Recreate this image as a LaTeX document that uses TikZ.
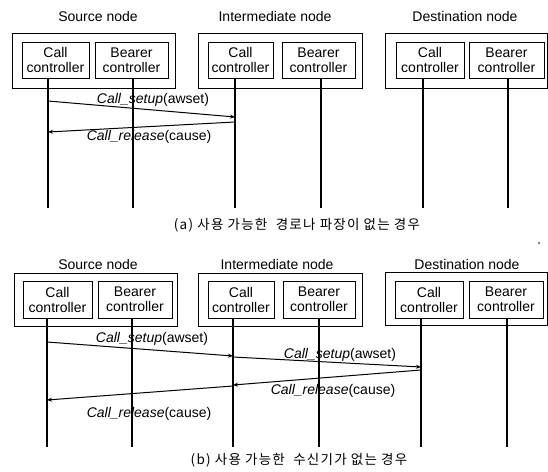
\documentclass[tikz,border=0pt]{standalone}
\usepackage{fontspec}
\setmainfont{Liberation Sans}
\newfontfamily\krfont[LetterSpace=9]{Noto Sans CJK KR}
\usetikzlibrary{arrows.meta}
\begin{document}
\begin{tikzpicture}[x=1pt,y=-1pt,
  every node/.style={font=\fontsize{14}{15}\selectfont},
  outerbox/.style={draw,line width=0.8pt},
  innerbox/.style={draw,line width=0.8pt},
  boxtext/.style={align=center,inner sep=0pt,font=\fontsize{14}{15}\selectfont},
  title/.style={inner sep=0pt},
  lifeline/.style={line width=1.4pt},
  msg/.style={line width=1pt,-{Stealth[length=5pt,width=4pt]}},
  msglabel/.style={inner sep=0pt},
  caption/.style={inner sep=0pt,font=\krfont\fontsize{13.5}{15}\selectfont}]
\useasboundingbox (0,0) rectangle (548,471);
\fill[white] (0,0) rectangle (548,471);

% ---------------- (a) ----------------
\node[title] (tSa) at (98,16) {Source node};
\node[title] (tIa) at (275,16) {Intermediate node};
\node[title] (tDa) at (465,16) {Destination node};

\draw[outerbox] (12,33) rectangle (175,88);
\draw[outerbox] (198,33) rectangle (362,88);
\draw[outerbox] (385,33) rectangle (547,88);

\draw[innerbox] (22,42) rectangle (89,78);
\node[boxtext] (aSc) at (55.5,60) {Call\\controller};
\draw[innerbox] (95,42) rectangle (168,78);
\node[boxtext] (aSb) at (131.5,60) {Bearer\\controller};
\draw[innerbox] (208,42) rectangle (273,78);
\node[boxtext] (aIc) at (240.5,60) {Call\\controller};
\draw[innerbox] (282,42) rectangle (355,78);
\node[boxtext] (aIb) at (318.5,60) {Bearer\\controller};
\draw[innerbox] (396,42) rectangle (464,78);
\node[boxtext] (aDc) at (430,60) {Call\\controller};
\draw[innerbox] (469,42) rectangle (544,78);
\node[boxtext] (aDb) at (506.5,60) {Bearer\\controller};

\foreach \n/\x in {1/48,2/133,3/235,4/321,5/423,6/508}{
  \coordinate (aT\n) at (\x,78);
  \coordinate (aB\n) at (\x,208);
  \draw[lifeline] (aT\n) -- (aB\n);
}
\coordinate (a1s) at (48,101);
\coordinate (a1e) at (235,117);
\draw[msg] (a1s) -- (a1e);
\node[msglabel] (la1) at (153,100) {\textit{Call\_setup}(awset)};
\coordinate (a2s) at (235,122);
\coordinate (a2e) at (48,132);
\draw[msg] (a2s) -- (a2e);
\node[msglabel] (la2) at (149,137) {\textit{Call\_release}(cause)};

\node[caption] (capa) at (297,225) {(a) 사용 가능한 \ 경로나 파장이 없는 경우};

\fill (539,243) circle (0.8pt);

% ---------------- (b) ----------------
\node[title] (tSb) at (98,264) {Source node};
\node[title] (tIb) at (277,264) {Intermediate node};
\node[title] (tDb) at (467,264) {Destination node};

\draw[outerbox] (14,273) rectangle (177,326);
\draw[outerbox] (198,273) rectangle (362,326);
\draw[outerbox] (385,272) rectangle (547,325);

\draw[innerbox] (23,281) rectangle (92,318);
\node[boxtext] (bSc) at (57.5,299.5) {Call\\controller};
\draw[innerbox] (98,281) rectangle (172,318);
\node[boxtext] (bSb) at (135,299.5) {Bearer\\controller};
\draw[innerbox] (208,281) rectangle (274,318);
\node[boxtext] (bIc) at (241,299.5) {Call\\controller};
\draw[innerbox] (283,281) rectangle (355,318);
\node[boxtext] (bIb) at (319,299.5) {Bearer\\controller};
\draw[innerbox] (395,281) rectangle (463,318);
\node[boxtext] (bDc) at (429,299.5) {Call\\controller};
\draw[innerbox] (469,281) rectangle (543,318);
\node[boxtext] (bDb) at (506,299.5) {Bearer\\controller};

\foreach \n/\x in {1/47,2/132,3/233,4/319,5/421,6/507}{
  \coordinate (bT\n) at (\x,318);
  \coordinate (bB\n) at (\x,447);
  \draw[lifeline] (bT\n) -- (bB\n);
}
\coordinate (b1s) at (47,342);
\coordinate (b1e) at (233,356);
\draw[msg] (b1s) -- (b1e);
\node[msglabel] (lb1) at (152,339) {\textit{Call\_setup}(awset)};
\coordinate (b2s) at (233,357);
\coordinate (b2e) at (421,367);
\draw[msg] (b2s) -- (b2e);
\node[msglabel] (lb2) at (340,355) {\textit{Call\_setup}(awset)};
\coordinate (b3s) at (421,370);
\coordinate (b3e) at (233,385);
\draw[msg] (b3s) -- (b3e);
\node[msglabel] (lb3) at (333,391) {\textit{Call\_release}(cause)};
\coordinate (b4s) at (233,386);
\coordinate (b4e) at (47,400);
\draw[msg] (b4s) -- (b4e);
\node[msglabel] (lb4) at (149,414) {\textit{Call\_release}(cause)};

\node[caption] (capb) at (299,460) {(b) 사용 가능한 \ 수신기가 없는 경우};
\end{tikzpicture}
\end{document}
